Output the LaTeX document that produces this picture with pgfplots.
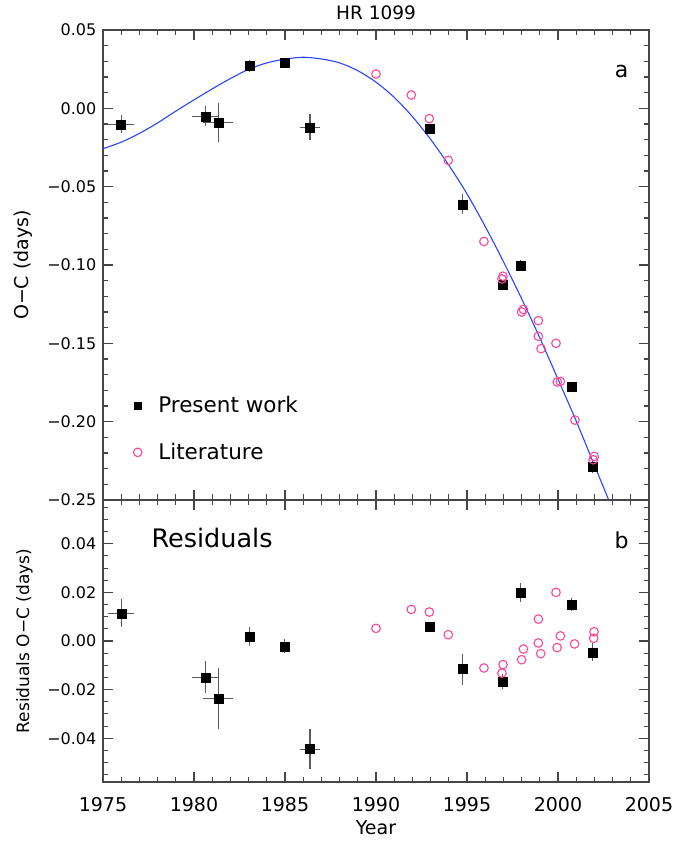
\documentclass[border=0pt]{standalone}
\usepackage{fontspec}
\setmainfont{DejaVu Sans}
\usepackage{pgfplots}
\pgfplotsset{compat=1.18}
\definecolor{litpink}{RGB}{255,70,150}
\definecolor{fitblue}{RGB}{40,70,255}
\definecolor{axgray}{RGB}{70,70,70}
\definecolor{errgray}{RGB}{90,90,90}
\begin{document}
\begin{tikzpicture}
\useasboundingbox (0pt,0pt) rectangle (699pt,841pt);
\pgfplotsset{
  every axis/.append style={
    scale only axis, width=546pt,
    xmin=1975, xmax=2005,
    xtick={1975,1980,1985,1990,1995,2000,2005}, minor x tick num=4,
    axis line style={axgray, line width=1.1pt},
    every tick/.style={axgray, line width=1.1pt},
    major tick length=10pt, minor tick length=5.5pt,
    tick align=inside,
    scaled y ticks=false, scaled x ticks=false,
    /pgf/number format/assume math mode=true,
    yticklabel style={font=\fontsize{16}{16}\selectfont, inner sep=0pt, xshift=-6.5pt},
    xticklabel style={font=\fontsize{19}{19}\selectfont, inner sep=0pt, yshift=-15pt},
  }
}
% ---------------- top panel ----------------
\begin{axis}[
  at={(103pt,341pt)}, anchor=south west, height=470pt,
  ymin=-0.25, ymax=0.05,
  ytick={-0.25,-0.2,-0.15,-0.1,-0.05,0,0.05},
  yticklabels={−0.25,−0.20,−0.15,−0.10,−0.05,0.00,0.05},
  minor y tick num=4,
  xticklabels={},
  ylabel={O−C (days)},
  every axis y label/.style={at={(axis description cs:-0.1456,0.5)}, rotate=90, anchor=center, font=\fontsize{19}{19}\selectfont, inner sep=0pt},
  legend style={draw=none, fill=none, at={(axis description cs:0,0)}, anchor=south west,
    xshift=30.2pt, yshift=36.5pt, font=\fontsize{21.5}{21.5}\selectfont, row sep=25pt, column sep=14.3pt, inner sep=0pt},
  legend cell align=left,
]
\addlegendimage{only marks, mark=square*, mark size=3.5pt, black}
\addlegendentry{Present work}
\addlegendimage{only marks, mark=o, mark size=4.3pt, litpink, line width=1.1pt}
\addlegendentry{Literature}
\addplot[fitblue, line width=1.1pt, smooth, no marks, forget plot] coordinates {
(1975,-0.0258) (1976,-0.0216) (1977,-0.0160) (1978,-0.0093) (1979,-0.0018)
(1980,0.0054) (1981,0.0124) (1982,0.0190) (1983,0.0249) (1984,0.0290)
(1985,0.0314) (1986,0.0326) (1987,0.0315) (1988,0.0290) (1989,0.0240)
(1990,0.0167) (1991,0.0070) (1992,-0.0053) (1993,-0.0198) (1994,-0.0363)
(1995,-0.0546) (1996,-0.0754) (1997,-0.0978) (1998,-0.1215) (1999,-0.1465)
(2000,-0.1729) (2001,-0.1996) (2002,-0.2278) (2003,-0.2560)
};
\addplot[only marks, mark=square*, mark size=4.5pt, black, forget plot,
  error bars/.cd, x dir=both, x explicit, y dir=both, y explicit,
  error bar style={errgray, line width=1.2pt}, error mark=none] coordinates {
(1976.00,-0.0102) +- (0.71,0.0057)
(1980.62,-0.0051) +- (0.74,0.0065)
(1981.33,-0.0089) +- (0.82,0.0125)
(1983.04,0.0270) +- (0,0.0039)
(1984.96,0.0291) +- (0,0.0029)
(1986.37,-0.0121) +- (0.53,0.0083)
(1992.93,-0.0128) +- (0,0.0020)
(1994.74,-0.0612) +- (0,0.0063)
(1996.94,-0.1124) +- (0,0.0030)
(1997.93,-0.1003) +- (0,0.0038)
(2000.73,-0.1777) +- (0,0.0027)
(2001.88,-0.2290) +- (0,0.0037)
};
\addplot[only marks, mark=o, mark size=4.3pt, litpink, line width=1.1pt, forget plot] coordinates {
(1990.00,0.0219) (1991.94,0.0085) (1992.93,-0.0066) (1993.97,-0.0332)
(1995.93,-0.0850) (1996.98,-0.1072) (1996.92,-0.1089) (1998.00,-0.1300)
(1998.10,-0.1284) (1998.92,-0.1355) (1998.92,-0.1455) (1999.07,-0.1534)
(1999.89,-0.1500) (1999.96,-0.1747) (2000.13,-0.1743) (2000.93,-0.1990)
(2001.99,-0.2222) (2001.93,-0.2243)
};
\node[font=\fontsize{22}{22}\selectfont] at (axis cs:2003.5,0.0234) {a};
\end{axis}
% ---------------- bottom panel ----------------
\begin{axis}[
  at={(103pt,59pt)}, anchor=south west, height=282pt,
  ymin=-0.058, ymax=0.058,
  ytick={-0.04,-0.02,0,0.02,0.04},
  yticklabels={−0.04,−0.02,0.00,0.02,0.04},
  minor ytick={-0.055,-0.05,-0.045,-0.035,-0.03,-0.025,-0.015,-0.01,-0.005,0.005,0.01,0.015,0.025,0.03,0.035,0.045,0.05,0.055},
  xticklabels={1975,1980,1985,1990,1995,2000,2005},
  xlabel={Year},
  every axis x label/.style={at={(axis description cs:0.5,-0.163)}, anchor=center, font=\fontsize{19}{19}\selectfont, inner sep=0pt},
  ylabel={Residuals O−C (days)},
  every axis y label/.style={at={(axis description cs:-0.1438,0.5)}, rotate=90, anchor=center, font=\fontsize{17}{17}\selectfont, inner sep=0pt},
]
\addplot[only marks, mark=square*, mark size=4.5pt, black,
  error bars/.cd, x dir=both, x explicit, y dir=both, y explicit,
  error bar style={errgray, line width=1.2pt}, error mark=none] coordinates {
(1976.00,0.0114) +- (0.71,0.0057)
(1980.62,-0.0149) +- (0.74,0.0065)
(1981.33,-0.0236) +- (0.82,0.0125)
(1983.04,0.0019) +- (0,0.0039)
(1984.96,-0.0022) +- (0,0.0029)
(1986.37,-0.0445) +- (0.53,0.0083)
(1992.93,0.0060) +- (0,0.0020)
(1994.74,-0.0116) +- (0,0.0063)
(1996.94,-0.0166) +- (0,0.0030)
(1997.93,0.0200) +- (0,0.0038)
(2000.73,0.0149) +- (0,0.0027)
(2001.88,-0.0047) +- (0,0.0037)
};
\addplot[only marks, mark=o, mark size=4.3pt, litpink, line width=1.1pt] coordinates {
(1990.00,0.0052) (1991.94,0.0130) (1992.93,0.0119) (1993.97,0.0026)
(1995.93,-0.0111) (1996.98,-0.0097) (1996.92,-0.0132) (1998.00,-0.0077)
(1998.10,-0.0033) (1998.92,0.0090) (1998.92,-0.0008) (1999.05,-0.0052)
(1999.89,0.0200) (1999.95,-0.0027) (2000.13,0.0021) (2000.91,-0.0012)
(2001.98,0.0038) (2001.96,0.0011)
};
\node[font=\fontsize{22}{22}\selectfont] at (axis cs:2003.5,0.0414) {b};
\node[font=\fontsize{25.5}{25.5}\selectfont] at (axis cs:1980.99,0.0423) {Residuals};
\end{axis}
\node[font=\fontsize{18.5}{18.5}\selectfont, inner sep=0pt] at (376pt,828pt) {HR 1099};
\end{tikzpicture}
\end{document}
